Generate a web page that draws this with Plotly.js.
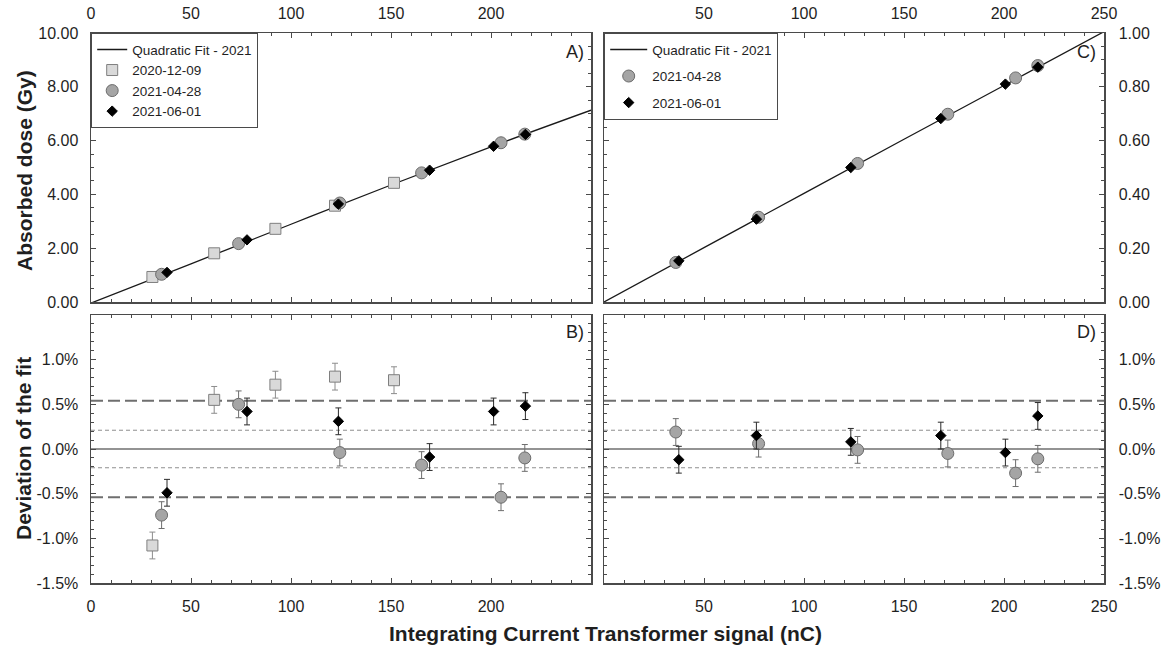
<!DOCTYPE html>
<html>
<head>
<meta charset="utf-8">
<script src="https://cdn.plot.ly/plotly-3.0.1.min.js"></script>
<style>html,body{margin:0;padding:0;background:#fff;}#chart{width:1163px;height:645px;}</style>
</head>
<body>
<div id="chart"></div>
<script>
// ---- Data ----
// Quadratic fit lines
const fitX = [0, 50, 100, 150, 200, 250];
const fitA = [-0.04, 1.42, 2.89, 4.35, 5.77, 7.13];
const fitC = [0, 0.202, 0.404, 0.605, 0.805, 1.005];

// Panel A (absorbed dose, Gy)
const sqX_A = [30.7, 61.6, 92.2, 122.0, 151.5];
const sqY_A = [0.93, 1.81, 2.72, 3.58, 4.43];
const ciX_A = [35.3, 73.8, 124.4, 165.3, 205.0, 216.9];
const ciY_A = [1.03, 2.17, 3.68, 4.80, 5.92, 6.24];
const diX_A = [38.0, 78.0, 123.7, 169.3, 201.3, 217.2];
const diY_A = [1.10, 2.31, 3.64, 4.90, 5.79, 6.23];

// Panel B (deviation of the fit, %)
const sqDev_B = [-1.08, 0.55, 0.72, 0.81, 0.77];
const sqErr_B = [0.15, 0.15, 0.15, 0.15, 0.15];
const ciDev_B = [-0.74, 0.50, -0.04, -0.18, -0.54, -0.10];
const ciErr_B = [0.15, 0.15, 0.15, 0.15, 0.15, 0.15];
const diDev_B = [-0.49, 0.42, 0.31, -0.09, 0.42, 0.48];
const diErr_B = [0.15, 0.15, 0.15, 0.15, 0.15, 0.15];

// Panel C (absorbed dose, Gy)
const ciX_C = [35.9, 77.3, 126.8, 171.9, 205.8, 216.9];
const ciY_C = [0.147, 0.315, 0.515, 0.698, 0.833, 0.879];
const diX_C = [37.4, 76.2, 123.4, 168.4, 200.7, 216.9];
const diY_C = [0.153, 0.308, 0.500, 0.682, 0.810, 0.873];

// Panel D (deviation of the fit, %)
const ciDev_D = [0.19, 0.06, -0.01, -0.05, -0.27, -0.11];
const ciErr_D = [0.15, 0.15, 0.15, 0.15, 0.15, 0.15];
const diDev_D = [-0.12, 0.15, 0.08, 0.15, -0.04, 0.37];
const diErr_D = [0.15, 0.15, 0.15, 0.15, 0.15, 0.15];

// Reference levels in the deviation panels (%)
const outerBand = [0.54, -0.54];
const innerBand = [0.21, -0.21];

const devTickVals = [-1.5, -1.0, -0.5, 0, 0.5, 1.0];
const devTickText = ['-1.5%', '-1.0%', '-0.5%', '0.0%', '0.5%', '1.0%'];
const xTickLeft = [0, 50, 100, 150, 200];
const xTickRight = [50, 100, 150, 200, 250];

// ---- Styles ----
const FONT = 'Liberation Sans, Arial, sans-serif';
const W = 1163, H = 645;
const frame = '#4a4a4a';
const sqStyle = {symbol: 'square', size: 11, color: '#d9d9d9', line: {color: '#7f7f7f', width: 1}};
const ciStyle = {symbol: 'circle', size: 12, color: '#a5a5a5', line: {color: '#6b6b6b', width: 1}};
const diStyle = {symbol: 'diamond', size: 8, color: '#000000', line: {color: '#000000', width: 1}};
const fitLine = {color: '#1a1a1a', width: 1.3, shape: 'spline'};
function errBar(arr, color) {
  return {type: 'data', array: arr, visible: true, color: color, thickness: 1, width: 3};
}

const traces = [
  // Panel A
  {x: fitX, y: fitA, xaxis: 'x', yaxis: 'y', mode: 'lines', line: fitLine,
   name: 'Quadratic Fit - 2021', legend: 'legend'},
  {x: sqX_A, y: sqY_A, xaxis: 'x', yaxis: 'y', mode: 'markers', marker: sqStyle,
   name: '2020-12-09', legend: 'legend'},
  {x: ciX_A, y: ciY_A, xaxis: 'x', yaxis: 'y', mode: 'markers', marker: ciStyle,
   name: '2021-04-28', legend: 'legend'},
  {x: diX_A, y: diY_A, xaxis: 'x', yaxis: 'y', mode: 'markers', marker: diStyle,
   name: '2021-06-01', legend: 'legend'},
  // Panel B
  {x: sqX_A, y: sqDev_B, xaxis: 'x2', yaxis: 'y2', mode: 'markers', marker: sqStyle,
   error_y: errBar(sqErr_B, '#8c8c8c'), showlegend: false},
  {x: ciX_A, y: ciDev_B, xaxis: 'x2', yaxis: 'y2', mode: 'markers', marker: ciStyle,
   error_y: errBar(ciErr_B, '#6e6e6e'), showlegend: false},
  {x: diX_A, y: diDev_B, xaxis: 'x2', yaxis: 'y2', mode: 'markers', marker: diStyle,
   error_y: errBar(diErr_B, '#2b2b2b'), showlegend: false},
  // Panel C
  {x: fitX, y: fitC, xaxis: 'x3', yaxis: 'y3', mode: 'lines', line: fitLine,
   name: 'Quadratic Fit - 2021', legend: 'legend2', legendgroup: 'g1'},
  {x: ciX_C, y: ciY_C, xaxis: 'x3', yaxis: 'y3', mode: 'markers', marker: ciStyle,
   name: '2021-04-28', legend: 'legend2', legendgroup: 'g2'},
  {x: diX_C, y: diY_C, xaxis: 'x3', yaxis: 'y3', mode: 'markers', marker: diStyle,
   name: '2021-06-01', legend: 'legend2', legendgroup: 'g3'},
  // Panel D
  {x: ciX_C, y: ciDev_D, xaxis: 'x4', yaxis: 'y4', mode: 'markers', marker: ciStyle,
   error_y: errBar(ciErr_D, '#6e6e6e'), showlegend: false},
  {x: diX_C, y: diDev_D, xaxis: 'x4', yaxis: 'y4', mode: 'markers', marker: diStyle,
   error_y: errBar(diErr_D, '#2b2b2b'), showlegend: false}
];

function axisBase(extra) {
  return Object.assign({
    showline: true, linecolor: frame, linewidth: 1.5, mirror: 'allticks',
    ticks: 'inside', ticklen: 5, tickwidth: 1, tickcolor: frame,
    showgrid: false, zeroline: false, fixedrange: true,
    tickfont: {family: FONT, size: 16, color: '#1f1f1f'}
  }, extra);
}

const dxL = [91 / W, 591 / W];
const dxR = [604 / W, 1104 / W];
const dyT = [343 / H, 612 / H];
const dyB = [62 / H, 330 / H];

const shapes = [];
function hline(xr, yr, y, dash, color, width) {
  shapes.push({type: 'line', xref: xr + ' domain', yref: yr, x0: 0, x1: 1, y0: y, y1: y,
    line: {color: color, width: width, dash: dash}, layer: 'below'});
}
[['x2', 'y2'], ['x4', 'y4']].forEach(function (p) {
  hline(p[0], p[1], 0, 'solid', '#6f6f6f', 1.5);
  outerBand.forEach(function (v) { hline(p[0], p[1], v, '12px,5px', '#6f6f6f', 2); });
  innerBand.forEach(function (v) { hline(p[0], p[1], v, '4px,3px', '#8f8f8f', 1); });
});

const annFont = {family: FONT, size: 18, color: '#1f1f1f'};
const titleFont = {family: FONT, size: 21, color: '#1f1f1f', weight: 'bold'};
const annotations = [
  {text: 'A)', x: 586 / W, y: (H - 52) / H, xref: 'paper', yref: 'paper', xanchor: 'right', yanchor: 'middle', showarrow: false, font: annFont},
  {text: 'B)', x: 586 / W, y: (H - 332) / H, xref: 'paper', yref: 'paper', xanchor: 'right', yanchor: 'middle', showarrow: false, font: annFont},
  {text: 'C)', x: 1098 / W, y: (H - 52) / H, xref: 'paper', yref: 'paper', xanchor: 'right', yanchor: 'middle', showarrow: false, font: annFont},
  {text: 'D)', x: 1098 / W, y: (H - 332) / H, xref: 'paper', yref: 'paper', xanchor: 'right', yanchor: 'middle', showarrow: false, font: annFont},
  {text: '<b>Absorbed dose (Gy)</b>', x: 24 / W, y: (H - 171) / H, xref: 'paper', yref: 'paper', xanchor: 'center', yanchor: 'middle', textangle: -90, showarrow: false, font: titleFont},
  {text: '<b>Deviation of the fit</b>', x: 24 / W, y: (H - 449) / H, xref: 'paper', yref: 'paper', xanchor: 'center', yanchor: 'middle', textangle: -90, showarrow: false, font: titleFont},
  {text: '<b>Integrating Current Transformer signal (nC)</b>', x: 605 / W, y: 12 / H, xref: 'paper', yref: 'paper', xanchor: 'center', yanchor: 'middle', showarrow: false, font: titleFont}
];

const legFont = {family: FONT, size: 13.5, color: '#1f1f1f'};
const layout = {
  width: W, height: H,
  margin: {l: 0, r: 0, t: 0, b: 0},
  paper_bgcolor: '#ffffff', plot_bgcolor: '#ffffff',
  font: {family: FONT, color: '#1f1f1f'},
  xaxis: axisBase({domain: dxL, anchor: 'y', range: [0, 250], side: 'top', tickmode: 'array', tickvals: xTickLeft,
    ticklabelstandoff: 6, minor: {tickmode: 'linear', tick0: 0, dtick: 10, ticks: 'inside', ticklen: 3, tickcolor: frame}}),
  yaxis: axisBase({domain: dyT, anchor: 'x', range: [0, 10], tickmode: 'linear', tick0: 0, dtick: 2, tickformat: '.2f',
    ticklabelstandoff: 8, minor: {tickmode: 'linear', tick0: 0, dtick: 0.5, ticks: 'inside', ticklen: 3, tickcolor: frame}}),
  xaxis2: axisBase({domain: dxL, anchor: 'y2', range: [0, 250], side: 'bottom', tickmode: 'array', tickvals: xTickLeft,
    ticklabelstandoff: 8, minor: {tickmode: 'linear', tick0: 0, dtick: 10, ticks: 'inside', ticklen: 3, tickcolor: frame}}),
  yaxis2: axisBase({domain: dyB, anchor: 'x2', range: [-1.5, 1.5], tickmode: 'array', tickvals: devTickVals, ticktext: devTickText,
    ticklabelstandoff: 8, minor: {tickmode: 'linear', tick0: 0, dtick: 0.1, ticks: 'inside', ticklen: 3, tickcolor: frame}}),
  xaxis3: axisBase({domain: dxR, anchor: 'y3', range: [0, 250], side: 'top', tickmode: 'array', tickvals: xTickRight,
    ticklabelstandoff: 6, minor: {tickmode: 'linear', tick0: 0, dtick: 10, ticks: 'inside', ticklen: 3, tickcolor: frame}}),
  yaxis3: axisBase({domain: dyT, anchor: 'x3', side: 'right', range: [0, 1], tickmode: 'linear', tick0: 0, dtick: 0.2, tickformat: '.2f',
    ticklabelstandoff: 10, minor: {tickmode: 'linear', tick0: 0, dtick: 0.05, ticks: 'inside', ticklen: 3, tickcolor: frame}}),
  xaxis4: axisBase({domain: dxR, anchor: 'y4', range: [0, 250], side: 'bottom', tickmode: 'array', tickvals: xTickRight,
    ticklabelstandoff: 8, minor: {tickmode: 'linear', tick0: 0, dtick: 10, ticks: 'inside', ticklen: 3, tickcolor: frame}}),
  yaxis4: axisBase({domain: dyB, anchor: 'x4', side: 'right', range: [-1.5, 1.5], tickmode: 'array', tickvals: devTickVals, ticktext: devTickText,
    ticklabelstandoff: 10, minor: {tickmode: 'linear', tick0: 0, dtick: 0.1, ticks: 'inside', ticklen: 3, tickcolor: frame}}),
  legend: {x: 91 / W, y: 612 / H, xanchor: 'left', yanchor: 'top', bgcolor: '#ffffff', bordercolor: frame, borderwidth: 1.2,
    font: legFont, traceorder: 'normal', itemwidth: 30},
  legend2: {x: 604 / W, y: 612 / H, xanchor: 'left', yanchor: 'top', bgcolor: '#ffffff', bordercolor: frame, borderwidth: 1.2,
    font: legFont, traceorder: 'grouped', tracegroupgap: 6, itemwidth: 37, entrywidth: 160},
  shapes: shapes,
  annotations: annotations,
  showlegend: true
};

Plotly.newPlot('chart', traces, layout, {displayModeBar: false, staticPlot: true});
</script>
</body>
</html>
